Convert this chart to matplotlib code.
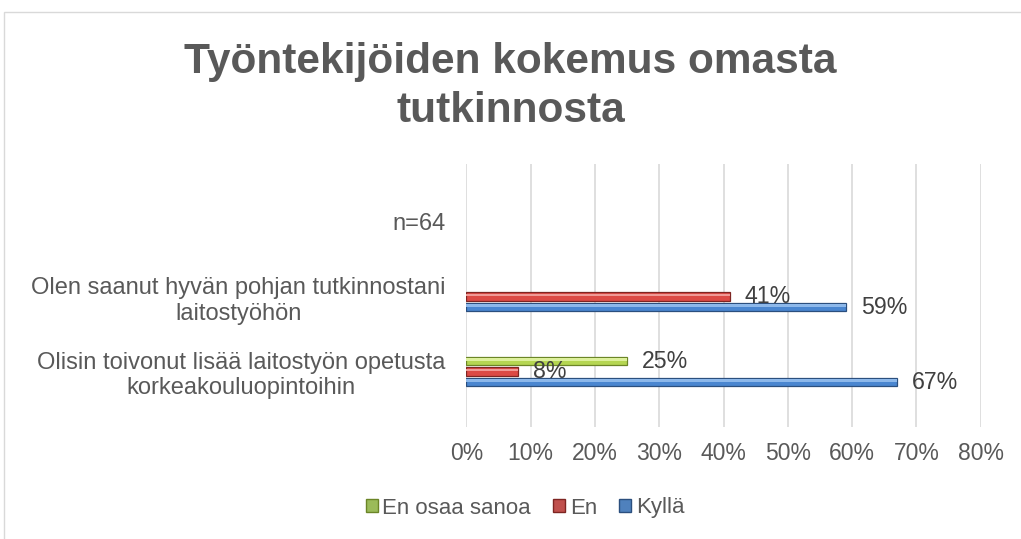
import numpy as np
import matplotlib
matplotlib.use("Agg")
import matplotlib.pyplot as plt
from matplotlib.patches import Patch, Rectangle

# ---- data ----
categories = [
    "Olisin toivonut lisää laitostyön opetusta\nkorkeakouluopintoihin",
    "Olen saanut hyvän pohjan tutkinnostani\nlaitostyöhön",
    "n=64",
]
kylla = [67, 59, np.nan]
en = [8, 41, np.nan]
eos = [25, 0, np.nan]
series_names = ["Kyllä", "En", "En osaa sanoa"]
x_ticks = [0, 10, 20, 30, 40, 50, 60, 70, 80]
title_lines = ["Työntekijöiden kokemus omasta", "tutkinnosta"]

plt.rcParams['font.family'] = ['Liberation Sans', 'DejaVu Sans']
TXT = '#595959'

fig = plt.figure(figsize=(10.21, 5.39), dpi=100)
# chart border (partially cut off at right/bottom)
fig.patches.append(Rectangle((4/1021, -0.1), 1.2, (539-12.5)/539 + 0.1,
                             transform=fig.transFigure, fill=False,
                             edgecolor='#d9d9d9', linewidth=1.0))

ax = fig.add_axes([466.3/1021, 1-427/539, (980.7-466.3)/1021, (427-164)/539])

y = np.arange(len(categories))
off = 0.14
h = 0.112
specs = [
    (kylla, -off, '#4A86D0', '#2B4F7E', '#8DB8EA'),
    (en, 0.0, '#DC4A45', '#7E2522', '#F09A96'),
    (eos, off, '#B5D652', '#6B8527', '#DDF09C'),
]
for vals, o, fc, ec, hc in specs:
    v = np.array(vals, dtype=float)
    v = np.where(v > 0, v, np.nan)
    ax.barh(y + o, v, height=h, color=fc, edgecolor=ec, linewidth=0.9, zorder=3)
    ax.barh(y + o + h*0.18, v, height=h*0.28, color=hc, linewidth=0, zorder=4)
    for yi, vi in zip(y, v):
        if np.isfinite(vi):
            ax.annotate(f"{vi:.0f}%", (vi, yi + o), xytext=(15, 0),
                        textcoords='offset pixels', va='center', ha='left',
                        fontsize=16.7, color='#404040', zorder=5)

ax.set_xlim(0, 80)
ax.set_ylim(-0.74, 2.77)
ax.set_xticks(x_ticks)
ax.set_xticklabels([f"{t}%" for t in x_ticks])
ax.set_yticks(y)
ax.set_yticklabels(categories)
for lbl in ax.get_yticklabels():
    lbl.set_multialignment('center')
ax.tick_params(axis='x', length=0, pad=11, labelsize=16.5, labelcolor=TXT)
ax.tick_params(axis='y', length=0, pad=15, labelsize=17, labelcolor=TXT)
ax.grid(axis='x', color='#d9d9d9', linewidth=1.2, zorder=0)
ax.set_axisbelow(True)
for s in ax.spines.values():
    s.set_visible(False)

for line, base_px in zip(title_lines, [73, 122]):
    fig.text(0.5, 1-base_px/539, line, ha='center', va='baseline',
             fontsize=30.5, fontweight='bold', color=TXT)

handles = [
    Patch(facecolor='#9BBB59', edgecolor='#6B8527', label="En osaa sanoa"),
    Patch(facecolor='#C0504D', edgecolor='#7E2522', label="En"),
    Patch(facecolor='#4F81BD', edgecolor='#2B4F7E', label="Kyllä"),
]
fig.legend(handles=handles, loc='center', bbox_to_anchor=(525/1021, 1-508/539),
           ncol=3, frameon=False, fontsize=16, handlelength=0.55,
           handleheight=0.55, handletextpad=0.2, columnspacing=1.0,
           labelcolor=TXT)

fig.savefig("out.png", dpi=100)
